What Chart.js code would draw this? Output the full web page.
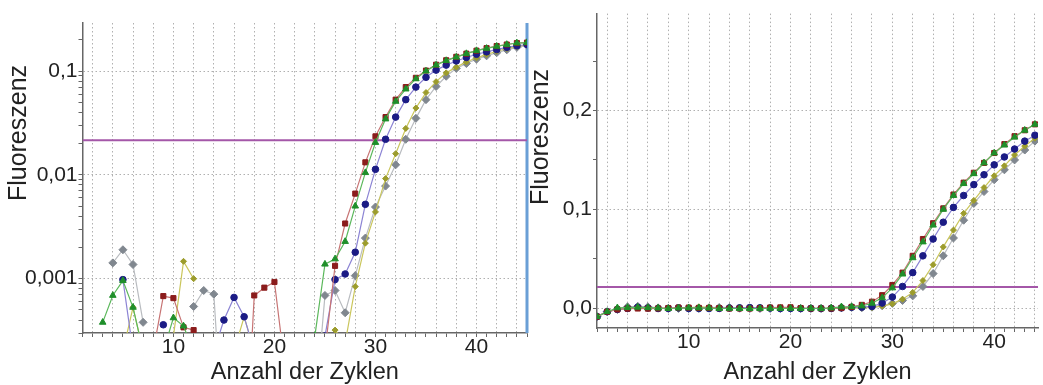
<!DOCTYPE html>
<html>
<head>
<meta charset="utf-8">
<script src="https://cdn.jsdelivr.net/npm/chart.js@4.4.0/dist/chart.umd.min.js"></script>
<style>
body { margin: 0; background: #fff; }
#wrap { position: relative; width: 1043px; height: 385px; overflow: hidden; }
canvas { position: absolute; top: 0; }
#logChart { left: 0; }
#linChart { left: 530px; }
</style>
</head>
<body>
<div id="wrap">
  <canvas id="logChart" width="532" height="385"></canvas>
  <canvas id="linChart" width="513" height="385"></canvas>
</div>
<script>
// qPCR curves, same data drawn twice: log scale (left) and linear (right)
const cycles = [1, 2, 3, 4, 5, 6, 7, 8, 9, 10, 11, 12, 13, 14, 15, 16, 17, 18, 19, 20,
  21, 22, 23, 24, 25, 26, 27, 28, 29, 30, 31, 32, 33, 34, 35, 36, 37, 38, 39, 40,
  41, 42, 43, 44, 45];

const redValues = [
  -0.0085, -0.0035, -0.0012, -0.0004, -0.0003, -0.0004, -0.0002, 0.0002, 0.00068, 0.00065,
  0.00034, 0.00032, 0.0001, -0.0003, -0.0002, -0.0003, 0.00001, 0.00069, 0.00082, 0.00093,
  0.00015, -0.0003, -0.0002, -0.0003, 0.0002, 0.00133, 0.0034, 0.0066, 0.0132, 0.0235,
  0.036, 0.053, 0.070, 0.086, 0.101, 0.115, 0.127, 0.137, 0.147, 0.157,
  0.166, 0.174, 0.180, 0.186, 0.188];
const greenValues = [
  -0.0085, -0.0035, 0.00038, 0.00069, 0.00096, 0.00053, 0.0002, -0.0003, 0.0002, 0.00042,
  0.00035, 0.0002, -0.0003, -0.0002, -0.0003, -0.0004, -0.0003, -0.0002, -0.0003, -0.0002,
  -0.0003, -0.0002, -0.0003, 0.00028, 0.00138, 0.00155, 0.00228, 0.0050, 0.0105, 0.0205,
  0.0345, 0.051, 0.067, 0.084, 0.100, 0.114, 0.126, 0.136, 0.147, 0.157,
  0.165, 0.173, 0.180, 0.186, 0.188];
const blueValues = [
  -0.0085, -0.0035, -0.0012, -0.0003, 0.00098, 0.0002, -0.0003, -0.0002, 0.00036, -0.0003,
  -0.0002, -0.0003, -0.0002, 0.0002, 0.0004, 0.00066, 0.00043, 0.0002, -0.0003, -0.0002,
  -0.0003, -0.0002, -0.0003, -0.0002, 0.00028, 0.00098, 0.00111, 0.0018, 0.0052, 0.0113,
  0.022, 0.036, 0.053, 0.070, 0.087, 0.102, 0.114, 0.125, 0.135, 0.145,
  0.153, 0.161, 0.169, 0.175, 0.180];
const oliveValues = [
  -0.0085, -0.0035, -0.0012, -0.0004, 0.0002, 0.00053, 0.0002, -0.0003, -0.0002, 0.00028,
  0.00147, 0.0010, -0.0003, -0.0002, -0.0003, 0.0002, 0.00043, 0.0002, -0.0003, -0.0002,
  -0.0003, -0.0002, -0.0003, -0.0002, -0.0003, 0.00032, 0.00024, 0.00084, 0.0022, 0.0044,
  0.0092, 0.016, 0.028, 0.044, 0.062, 0.079, 0.096, 0.109, 0.122, 0.134,
  0.144, 0.155, 0.164, 0.172, 0.179];
const grayValues = [
  -0.0085, -0.0035, -0.0012, 0.00142, 0.0019, 0.00137, 0.00038, -0.0003, -0.0002, -0.0003,
  -0.0002, 0.00054, 0.00077, 0.00071, 0.00002, -0.0003, -0.0002, -0.0003, -0.0002, -0.0003,
  -0.0002, -0.0003, -0.0002, 0.00005, 0.00069, 0.00077, 0.00047, 0.00107, 0.00246, 0.0049,
  0.0078, 0.0125, 0.022, 0.035, 0.053, 0.071, 0.089, 0.106, 0.118, 0.130,
  0.140, 0.150, 0.160, 0.169, 0.177];

const threshold = 0.0215;
const cursorCycle = 45;

const xTickValues = [10, 20, 30, 40];
const logTickValues = [0.001, 0.01, 0.1];
const logTickLabels = ['0,001', '0,01', '0,1'];
const logMinorTicks = [0.0003, 0.0004, 0.0005, 0.0006, 0.0007, 0.0008, 0.0009,
  0.001, 0.002, 0.003, 0.004, 0.005, 0.006, 0.007, 0.008, 0.009,
  0.01, 0.02, 0.03, 0.04, 0.05, 0.06, 0.07, 0.08, 0.09, 0.1, 0.2];
const linTickValues = [0, 0.1, 0.2];
const linTickLabels = ['0,0', '0,1', '0,2'];
const linMinorTicks = [0, 0.05, 0.1, 0.15, 0.2, 0.25];

const FONT = '"Liberation Sans", Arial, sans-serif';
Chart.defaults.font.family = FONT;
Chart.defaults.color = '#222';

const GRID = '#b0b0b0';
const AXIS = '#666';

// series look, top-most first
const seriesStyles = [
  { values: greenValues, line: '#5cb85c', fill: '#1f8f2a', shape: 'triangle', r: 3.8 },
  { values: redValues,   line: '#c77474', fill: '#8b1c1c', shape: 'rect',     r: 3.6 },
  { values: blueValues,  line: '#8c84d4', fill: '#1b1b85', shape: 'circle',   r: 3.3 },
  { values: oliveValues, line: '#cac65c', fill: '#9c9c2c', shape: 'rectRot',  r: 3.0 },
  { values: grayValues,  line: '#b9bcc0', fill: '#80878f', shape: 'rectRot',  r: 4.0 }
];

function seriesDatasets() {
  return seriesStyles.map(s => ({
    data: cycles.map((c, i) => ({ x: c, y: s.values[i] })),
    borderColor: s.line,
    borderWidth: 1.2,
    pointStyle: s.shape,
    pointRadius: s.r,
    pointBackgroundColor: s.fill,
    pointBorderColor: s.fill,
    pointBorderWidth: 1,
    tension: 0
  }));
}

function findLabel(v, values, labels) {
  const i = values.findIndex(t => Math.abs(t - v) < 1e-9 + Math.abs(t) * 1e-6);
  return i >= 0 ? labels[i] : '';
}

const yTitlePlugin = {
  id: 'yTitle',
  afterDraw(chart, args, opts) {
    const ctx = chart.ctx;
    ctx.save();
    ctx.translate(opts.x, opts.y);
    ctx.rotate(-Math.PI / 2);
    ctx.font = '25px ' + FONT;
    ctx.fillStyle = '#222';
    ctx.textAlign = 'center';
    ctx.textBaseline = 'middle';
    ctx.fillText(opts.text, 0, 0);
    ctx.restore();
  }
};

function xScale(max, height, tickList) {
  return {
    type: 'linear', min: 1, max: max,
    afterBuildTicks: s => { s.ticks = tickList.map(v => ({ value: v })); },
    afterFit: s => { s.height = height; },
    ticks: {
      autoSkip: false, maxRotation: 0, minRotation: 0, padding: -2,
      font: { size: 21 },
      callback: v => xTickValues.includes(v) ? String(v) : ''
    },
    grid: {
      color: c => (c.tick && c.tick.value % 2 === 0) ? GRID : 'transparent',
      lineWidth: 1, tickColor: AXIS, tickLength: 4
    },
    border: { display: true, color: AXIS, width: 1.5, dash: [1.5, 2.5] },
    title: {
      display: true, text: 'Anzahl der Zyklen', color: '#222',
      font: { size: 23.5, lineHeight: 1 }, padding: { top: 0, bottom: 1 }
    }
  };
}

// left: logarithmic
const logDatasets = seriesDatasets();
logDatasets.push({
  data: [{ x: 1, y: threshold }, { x: 45, y: threshold }],
  borderColor: '#a457a8', borderWidth: 2, pointRadius: 0
});
logDatasets.push({
  data: [{ x: cursorCycle, y: 0.0003 }, { x: cursorCycle, y: 0.29 }],
  borderColor: '#6a9fd6', borderWidth: 3, pointRadius: 0, clip: false
});

new Chart(document.getElementById('logChart'), {
  type: 'line',
  data: { datasets: logDatasets },
  plugins: [yTitlePlugin],
  options: {
    responsive: false,
    animation: false,
    layout: { padding: { top: 23, right: 3, bottom: 0, left: 0 } },
    plugins: {
      legend: { display: false },
      tooltip: { enabled: false },
      yTitle: { text: 'Fluoreszenz', x: 19.5, y: 133 }
    },
    scales: {
      x: xScale(45, 52, cycles),
      y: {
        type: 'logarithmic', min: 0.0003, max: 0.29,
        afterBuildTicks: s => { s.ticks = logMinorTicks.map(v => ({ value: v })); },
        afterFit: s => { s.width = 82.5; },
        ticks: {
          autoSkip: false, padding: 1, font: { size: 21 },
          callback: v => findLabel(v, logTickValues, logTickLabels)
        },
        grid: {
          color: c => (c.tick && findLabel(c.tick.value, logTickValues, logTickLabels)) ? GRID : 'transparent',
          lineWidth: 1, tickColor: AXIS, tickLength: 4
        },
        border: { display: true, color: AXIS, width: 1.5, dash: [1.5, 2.5] }
      }
    }
  }
});

// right: linear
const linDatasets = seriesDatasets();
linDatasets.push({
  data: [{ x: 1, y: threshold }, { x: 44.3, y: threshold }],
  borderColor: '#a457a8', borderWidth: 2, pointRadius: 0
});

new Chart(document.getElementById('linChart'), {
  type: 'line',
  data: { datasets: linDatasets },
  plugins: [yTitlePlugin],
  options: {
    responsive: false,
    animation: false,
    layout: { padding: { top: 13, right: 0, bottom: 0, left: 0 } },
    plugins: {
      legend: { display: false },
      tooltip: { enabled: false },
      yTitle: { text: 'Fluoreszenz', x: 11, y: 137 }
    },
    scales: {
      x: xScale(44.3, 57, cycles.slice(0, 44)),
      y: {
        type: 'linear', min: -0.02, max: 0.298,
        afterBuildTicks: s => { s.ticks = linMinorTicks.map(v => ({ value: v })); },
        afterFit: s => { s.width = 67; },
        ticks: {
          autoSkip: false, padding: 1, font: { size: 21 },
          callback: v => findLabel(v, linTickValues, linTickLabels)
        },
        grid: {
          color: c => (c.tick && findLabel(c.tick.value, linTickValues, linTickLabels)) ? GRID : 'transparent',
          lineWidth: 1, tickColor: AXIS, tickLength: 4
        },
        border: { display: true, color: AXIS, width: 1.5, dash: [1.5, 2.5] }
      }
    }
  }
});
</script>
</body>
</html>
